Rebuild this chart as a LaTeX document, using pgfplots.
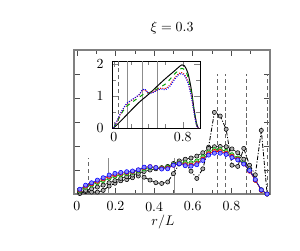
\documentclass[border=0pt]{standalone}
\usepackage{pgfplots}
\pgfplotsset{compat=1.18}
\definecolor{cgreen}{RGB}{0,160,0}
\definecolor{cred}{RGB}{230,0,0}
\definecolor{cblue}{RGB}{0,0,255}
\begin{document}
\begin{tikzpicture}
\useasboundingbox (0,0) rectangle (216pt,180pt);
\begin{axis}[
  at={(53.28pt,40.32pt)}, anchor=south west,
  scale only axis, width=141.12pt, height=103.68pt,
  xmin=-0.015, xmax=1.0, ymin=0, ymax=6,
  xtick={0,0.2,0.4,0.6,0.8}, minor xtick={0.1,0.3,0.5,0.7,0.9},
  xticklabels={0,0.2,0.4,0.6,0.8},
  ytick={0,1,2,3,4,5,6}, yticklabels={},
  axis line style={black!50, line width=0.8pt}, every tick/.style={black!70},
  xticklabel style={yshift=-2pt},
  tick label style={font=\normalsize},
  clip=false,
]
% reference lines
\addplot[black!60, densely dashed, thin] coordinates {(0.057,0) (0.057,1.5)};
\addplot[black!45, thin] coordinates {(0.161,0) (0.161,1.5)};
\addplot[black!45, thin] coordinates {(0.338,0) (0.338,5.5)};
\addplot[black!45, thin] coordinates {(0.504,0) (0.504,1.5)};
\addplot[black!60, densely dashed, thin] coordinates {(0.727,0) (0.727,5)};
\addplot[black!60, densely dashed, thin] coordinates {(0.769,0) (0.769,5)};
\addplot[black!60, densely dashed, thin] coordinates {(0.878,0) (0.878,5)};
\addplot[black!60, densely dashed, thin] coordinates {(0.987,0) (0.987,5)};
% black dash-dot
\addplot[black, semithick, dash pattern=on 3pt off 1.2pt on 0.8pt off 1.2pt, mark=*, mark size=1.5pt, mark options={solid, thin, fill=black!30, draw=black}] coordinates {
(0.015,0.02) (0.045,0.1) (0.076,0.08) (0.106,0.08) (0.136,0.15) (0.167,0.33)
(0.197,0.45) (0.227,0.55) (0.258,0.6) (0.288,0.68) (0.318,0.75) (0.348,0.7)
(0.379,0.58) (0.409,0.47) (0.439,0.44) (0.470,0.5) (0.500,0.85) (0.530,1.25)
(0.561,1.3) (0.591,0.95) (0.621,0.65) (0.652,1.05) (0.682,1.95) (0.712,3.4)
(0.742,3.25) (0.773,2.7) (0.803,1.2) (0.833,1.15) (0.864,1.9) (0.894,1.2)
(0.924,0.8) (0.955,2.65) (0.985,0.0)};
% black solid
\addplot[black, thin, mark=*, mark size=1.5pt, mark options={fill=black!30, draw=black}] coordinates {
(0.015,0.08) (0.045,0.15) (0.076,0.22) (0.106,0.29) (0.136,0.37) (0.167,0.47)
(0.197,0.56) (0.227,0.65) (0.258,0.72) (0.288,0.79) (0.318,0.86) (0.348,0.94)
(0.379,1.0) (0.409,1.05) (0.439,1.1) (0.470,1.15) (0.500,1.27) (0.530,1.38)
(0.561,1.45) (0.591,1.5) (0.621,1.58) (0.652,1.72) (0.682,1.9) (0.712,1.97)
(0.742,1.98) (0.773,1.97) (0.803,1.88) (0.833,1.72) (0.864,1.45) (0.894,1.05)
(0.924,0.58) (0.955,0.18) (0.985,0.0)};
% green
\addplot[cgreen, thin, mark=*, mark size=1.5pt, mark options={fill=cgreen!50, draw=cgreen}] coordinates {
(0.015,0.14) (0.045,0.28) (0.076,0.38) (0.106,0.47) (0.136,0.56) (0.167,0.66)
(0.197,0.74) (0.227,0.8) (0.258,0.85) (0.288,0.9) (0.318,0.96) (0.348,1.04)
(0.379,1.1) (0.409,1.1) (0.439,1.08) (0.470,1.12) (0.500,1.22) (0.530,1.3)
(0.561,1.3) (0.591,1.3) (0.621,1.38) (0.652,1.55) (0.682,1.75) (0.712,1.85)
(0.742,1.85) (0.773,1.78) (0.803,1.64) (0.833,1.5) (0.864,1.28) (0.894,0.98)
(0.924,0.58) (0.955,0.15) (0.985,0.0)};
% red
\addplot[cred, thin, mark=*, mark size=1.5pt, mark options={fill=cred!50, draw=cred}] coordinates {
(0.015,0.17) (0.045,0.33) (0.076,0.43) (0.106,0.53) (0.136,0.63) (0.167,0.73)
(0.197,0.81) (0.227,0.86) (0.258,0.9) (0.288,0.94) (0.318,1.0) (0.348,1.1)
(0.379,1.14) (0.409,1.1) (0.439,1.06) (0.470,1.08) (0.500,1.2) (0.530,1.27)
(0.561,1.22) (0.591,1.2) (0.621,1.27) (0.652,1.45) (0.682,1.68) (0.712,1.77)
(0.742,1.77) (0.773,1.7) (0.803,1.57) (0.833,1.45) (0.864,1.25) (0.894,0.95)
(0.924,0.57) (0.955,0.15) (0.985,0.0)};
% blue
\addplot[cblue, thin, mark=*, mark size=1.5pt, mark options={fill=cblue!45, draw=cblue}] coordinates {
(0.015,0.2) (0.045,0.37) (0.076,0.47) (0.106,0.58) (0.136,0.68) (0.167,0.79)
(0.197,0.86) (0.227,0.9) (0.258,0.93) (0.288,0.96) (0.318,1.01) (0.348,1.12)
(0.379,1.14) (0.409,1.1) (0.439,1.04) (0.470,1.05) (0.500,1.2) (0.530,1.26)
(0.561,1.18) (0.591,1.16) (0.621,1.22) (0.652,1.4) (0.682,1.62) (0.712,1.7)
(0.742,1.7) (0.773,1.65) (0.803,1.52) (0.833,1.42) (0.864,1.25) (0.894,0.98)
(0.924,0.6) (0.955,0.17) (0.985,0.0)};
\end{axis}
% inset
\begin{axis}[
  at={(80.64pt,87.84pt)}, anchor=south west,
  scale only axis, width=63.36pt, height=48.24pt,
  xmin=-0.02, xmax=1.0, ymin=0, ymax=2.1,
  xtick={0,0.8}, minor xtick={0.2,0.4,0.6},
  xticklabels={0,0.8},
  ytick={0,1,2}, minor ytick={0.5,1.5},
  axis background/.style={fill=white},
  xticklabel style={yshift=-2pt, fill=white, inner sep=1pt},
  yticklabel style={xshift=-2.5pt},
  tick label style={font=\normalsize},
]
\addplot[black!60, densely dashed, thin] coordinates {(0.05,0) (0.05,2.1)};
\addplot[black!45, thin] coordinates {(0.16,0) (0.16,2.1)};
\addplot[black!45, thin] coordinates {(0.33,0) (0.33,2.1)};
\addplot[black!45, thin] coordinates {(0.5,0) (0.5,2.1)};
\addplot[black, line width=0.7pt, smooth] coordinates {
(0,0) (0.1,0.27) (0.2,0.55) (0.3,0.82) (0.38,1.0) (0.45,1.17) (0.5,1.3)
(0.6,1.55) (0.7,1.78) (0.75,1.9) (0.79,1.98) (0.82,1.95) (0.86,1.72)
(0.9,1.2) (0.93,0.6) (0.96,0.15) (0.98,0)};
\addplot[cgreen, line width=0.7pt, dashed, smooth] coordinates {
(0,0) (0.05,0.25) (0.1,0.5) (0.15,0.68) (0.2,0.78) (0.25,0.88) (0.3,0.97)
(0.35,1.07) (0.4,1.1) (0.45,1.15) (0.5,1.22) (0.55,1.3) (0.6,1.38) (0.65,1.52)
(0.7,1.68) (0.75,1.8) (0.79,1.87) (0.83,1.8) (0.86,1.6) (0.9,1.1) (0.93,0.55)
(0.96,0.1) (0.98,0)};
\addplot[cred, line width=0.7pt, densely dotted, smooth] coordinates {
(0,0) (0.05,0.28) (0.1,0.55) (0.15,0.75) (0.2,0.85) (0.25,0.95) (0.3,1.05)
(0.33,1.18) (0.36,1.2) (0.4,1.1) (0.45,1.12) (0.5,1.2) (0.55,1.25) (0.6,1.24)
(0.65,1.35) (0.7,1.55) (0.75,1.7) (0.78,1.74) (0.82,1.68) (0.86,1.45)
(0.9,1.0) (0.93,0.5) (0.96,0.08) (0.98,0)};
\addplot[cblue, line width=0.7pt, densely dotted, smooth] coordinates {
(0,0) (0.05,0.3) (0.1,0.57) (0.15,0.77) (0.2,0.87) (0.25,0.96) (0.3,1.06)
(0.33,1.2) (0.36,1.22) (0.4,1.1) (0.45,1.1) (0.5,1.18) (0.55,1.22) (0.6,1.2)
(0.65,1.3) (0.7,1.5) (0.75,1.66) (0.78,1.7) (0.82,1.64) (0.86,1.42)
(0.9,0.98) (0.93,0.5) (0.96,0.08) (0.98,0)};
\end{axis}
\node at (123.84pt,159.84pt) {$\xi=0.3$};
\node at (117.36pt,20.16pt) {$r/L$};
\end{tikzpicture}
\end{document}
